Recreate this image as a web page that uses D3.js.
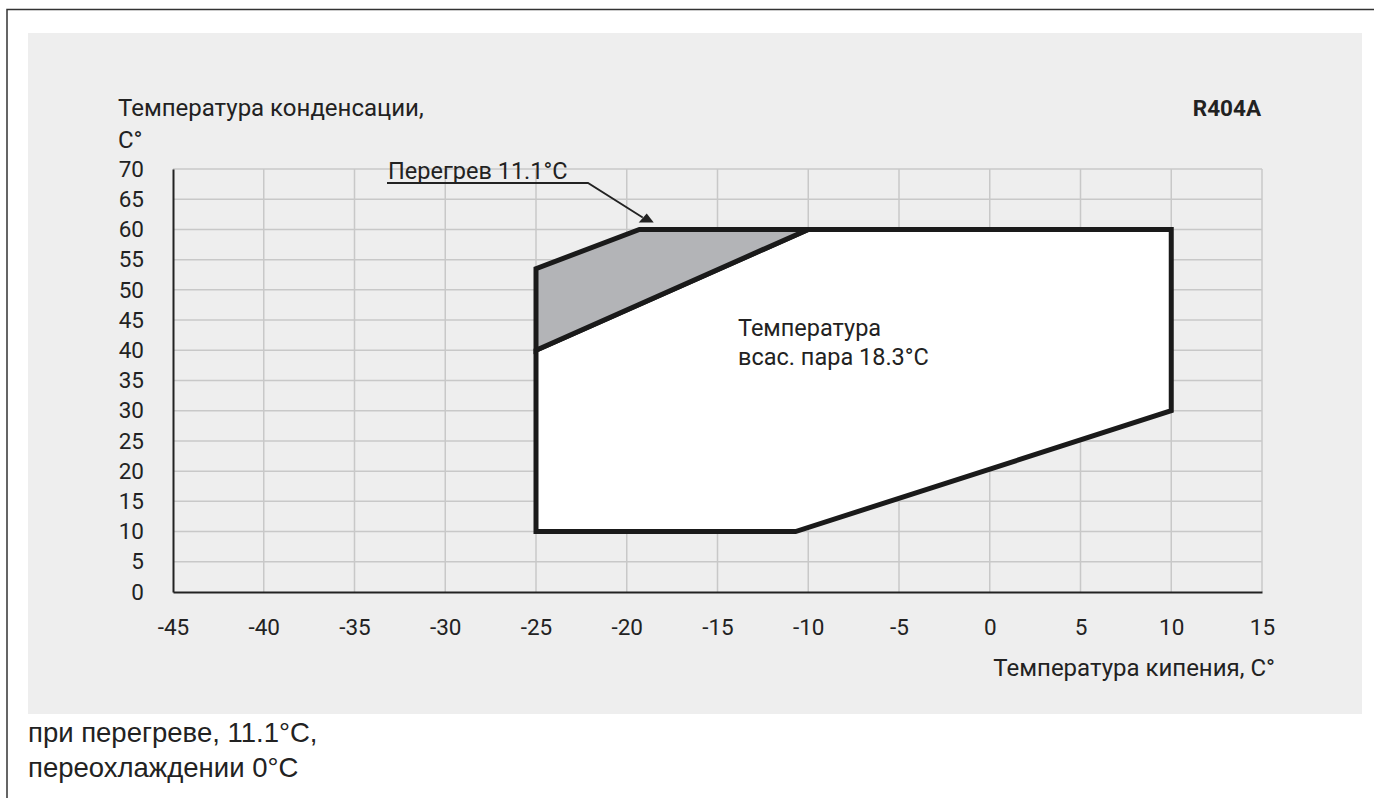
<!DOCTYPE html>
<html><head><meta charset="utf-8">
<script src="https://cdn.jsdelivr.net/npm/d3@7"></script>
<style>html,body{margin:0;padding:0;background:#fff;}svg{display:block;}</style>
</head><body>
<script>
const xTicks = [-45,-40,-35,-30,-25,-20,-15,-10,-5,0,5,10,15];
const yTicks = [0,5,10,15,20,25,30,35,40,45,50,55,60,65,70];
// Operating envelope (evaporating temp, condensing temp)
const envelopeX = [-25, -10.7, 10, 10, -10, -25];
const envelopeY = [10, 10, 30, 60, 60, 40];
// Superheat 11.1°C zone
const superheatX = [-25, -10, -19.3, -25];
const superheatY = [40, 60, 60, 53.5];
const annotationTarget = [-18.9, 61.3];

const W = 1374, H = 798;
const svg = d3.select("body").append("svg").attr("width", W).attr("height", H);
const font = "Roboto, 'DejaVu Sans', sans-serif";

// outer frame
svg.append("path").attr("d", `M7,798 V9.5 H1374`).attr("fill","none").attr("stroke","#333").attr("stroke-width",1.5);
// grey panel
svg.append("rect").attr("x",28).attr("y",33).attr("width",1334).attr("height",681).attr("fill","#eeeeee");

const x = d3.scaleLinear().domain([-45,15]).range([173,1262]);
const y = d3.scaleLinear().domain([0,70]).range([592,169]);

// grid
const g = svg.append("g");
g.selectAll(".vg").data(xTicks.slice(1)).join("line")
  .attr("x1",d=>x(d)).attr("x2",d=>x(d)).attr("y1",y(0)).attr("y2",y(70))
  .attr("stroke","#c8c8c8").attr("stroke-width",1.5);
g.selectAll(".hg").data(yTicks.slice(1)).join("line")
  .attr("x1",x(-45)).attr("x2",x(15)).attr("y1",d=>y(d)).attr("y2",d=>y(d))
  .attr("stroke","#c8c8c8").attr("stroke-width",1.5);

// axes
const xAxis = d3.axisBottom(x).tickValues(xTicks).tickSize(0).tickPadding(27).tickFormat(d=>String(d));
const xg = svg.append("g").attr("transform",`translate(0,${y(0)})`).call(xAxis);
xg.select(".domain").attr("stroke","#222").attr("stroke-width",2);
xg.selectAll("text").attr("font-family",font).attr("font-size",22.5).attr("fill","#222");

const yAxis = d3.axisLeft(y).tickValues(yTicks).tickSize(0).tickPadding(29).tickFormat(d=>String(d));
const yg = svg.append("g").attr("transform",`translate(${x(-45)},0)`).call(yAxis);
yg.select(".domain").attr("stroke","#222").attr("stroke-width",2);
yg.selectAll("text").attr("font-family",font).attr("font-size",22.5).attr("fill","#222");

// envelope
const pts = envelopeX.map((v,i)=>[x(v), y(envelopeY[i])]);
svg.append("path").attr("d", d3.line()(pts)+"Z").attr("fill","#ffffff").attr("stroke","#1a1a1a").attr("stroke-width",5).attr("stroke-linejoin","miter");
const sp = superheatX.map((v,i)=>[x(v), y(superheatY[i])]);
svg.append("path").attr("d", d3.line()(sp)+"Z").attr("fill","#b3b4b7").attr("stroke","#1a1a1a").attr("stroke-width",5).attr("stroke-linejoin","miter");

// texts
const t = (txt, tx, ty, opts={}) => svg.append("text").attr("x",tx).attr("y",ty)
  .attr("font-family",opts.family||font).attr("font-size",opts.size||24)
  .attr("font-weight",opts.weight||"normal").attr("text-anchor",opts.anchor||"start")
  .attr("fill",opts.fill||"#222").text(txt);

t("Температура конденсации,", 118, 116);
t("C°", 118, 148);
t("R404A", 1261, 116, {weight:"bold", anchor:"end", size:22.5});
t("Температура кипения, C°", 1275, 676, {anchor:"end"});
t("Температура", 738, 336, {size:23.5});
t("всас. пара 18.3°C", 738, 365, {size:23.5});

// annotation
t("Перегрев 11.1°C", 388, 179, {size:23.5});
const tip = [x(annotationTarget[0]), y(annotationTarget[1])];
svg.append("path").attr("d", `M387,183 H588 L${tip[0]-4},${tip[1]-4}`).attr("fill","none").attr("stroke","#222").attr("stroke-width",1.8);
svg.append("path").attr("d", `M${tip[0]},${tip[1]-8} L${tip[0]+7},${tip[1]+1} L${tip[0]-8},${tip[1]+1} Z`).attr("fill","#222");

// footnote
t("при перегреве, 11.1°C,", 28, 742, {family:"'Liberation Sans', Arial, sans-serif", size:27.5});
t("переохлаждении 0°C", 28, 777, {family:"'Liberation Sans', Arial, sans-serif", size:27.5});
</script>
</body></html>
